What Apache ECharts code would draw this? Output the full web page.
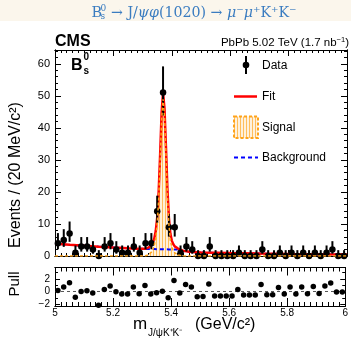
<!DOCTYPE html>
<html>
<head>
<meta charset="utf-8">
<script src="https://cdn.jsdelivr.net/npm/echarts@6/dist/echarts.min.js"></script>
<style>
html, body { margin: 0; padding: 0; background: #fff; }
#chart { width: 351px; height: 344px; }
</style>
</head>
<body>
<div id="chart"></div>
<script>
// J/psi K+K- invariant mass, 20 MeV bins between 5.0 and 6.0 GeV
const binCenters = [
  5.01, 5.03, 5.05, 5.07, 5.09, 5.11, 5.13, 5.15, 5.17, 5.19,
  5.21, 5.23, 5.25, 5.27, 5.29, 5.31, 5.33, 5.35, 5.37, 5.39,
  5.41, 5.43, 5.45, 5.47, 5.49, 5.51, 5.53, 5.55, 5.57, 5.59,
  5.61, 5.63, 5.65, 5.67, 5.69, 5.71, 5.73, 5.75, 5.77, 5.79,
  5.81, 5.83, 5.85, 5.87, 5.89, 5.91, 5.93, 5.95, 5.97, 5.99
];
// events per bin
const counts = [
  4, 5, 7, 1, 3, 3, 2, 0, 3, 4,
  2, 1, 1, 3, 1, 4, 4, 14, 51, 9,
  9, 1, 3, 2, 0, 0, 3, 0, 0, 0,
  0, 1, 0, 0, 0, 2, 0, 0, 1, 0,
  1, 0, 1, 0, 1, 0, 1, 2, 0, 0
];
// (data - fit) / error per bin
const pulls = [
  0.15, 0.7, 1.4, -0.9, 0.0, 0.1, -0.25, -2.2, 0.3, 0.85,
  -0.05, -0.4, -0.4, 0.7, -0.35, 0.95, -0.4, -0.2, 0.05, -1.0,
  1.75, -0.25, 1.1, 0.7, -0.85, -0.8, 1.2, -0.7, -0.7, -0.7,
  -0.7, 0.3, -0.55, -0.55, -0.55, 1.1, -0.5, -0.5, 0.65, -0.4,
  0.7, -0.4, 0.7, -0.35, 0.8, -0.3, 0.85, 1.35, -0.1, -0.1
];
// fitted model sampled along the mass axis
const curveMass = [
  5.00, 5.05, 5.10, 5.15, 5.20, 5.25, 5.28, 5.30, 5.31, 5.32,
  5.33, 5.335, 5.34, 5.345, 5.35, 5.355, 5.36, 5.365, 5.37, 5.375,
  5.38, 5.385, 5.39, 5.395, 5.40, 5.405, 5.41, 5.42, 5.43, 5.44,
  5.46, 5.50, 5.55, 5.60, 5.70, 5.80, 5.90, 6.00
];
const fitTotal = [
  3.85, 3.5, 3.2, 2.9, 2.65, 2.42, 2.3, 2.25, 2.3, 2.6,
  3.4, 4.2, 5.5, 7.8, 12.0, 20.0, 31.5, 44.5, 51.0, 46.0,
  34.0, 21.0, 12.0, 7.0, 4.8, 3.7, 3.0, 2.4, 1.95, 1.6,
  1.3, 1.1, 1.0, 0.9, 0.75, 0.62, 0.52, 0.45
];
const fitBackground = [
  3.85, 3.5, 3.2, 2.9, 2.65, 2.42, 2.3, 2.25, 2.22, 2.2,
  2.18, 2.17, 2.16, 2.15, 2.14, 2.13, 2.12, 2.11, 2.1, 2.09,
  2.08, 2.07, 2.06, 2.05, 2.04, 2.03, 2.02, 2.0, 1.82, 1.5,
  1.28, 1.1, 1.0, 0.9, 0.75, 0.62, 0.52, 0.45
];
const fitSignal = [
  0, 0, 0, 0, 0, 0, 0, 0, 0.08, 0.4,
  1.2, 2.0, 3.3, 5.6, 9.8, 17.8, 29.3, 42.3, 48.9, 43.9,
  31.9, 19.0, 10.0, 5.0, 2.8, 1.7, 1.0, 0.4, 0.13, 0.05,
  0, 0, 0, 0, 0, 0, 0, 0
];
// axis tick labels
const massTicks = [5.0, 5.2, 5.4, 5.6, 5.8, 6.0];
const eventTicks = [0, 10, 20, 30, 40, 50, 60];
const pullTicks = [-2, 0, 2];

const SANS = "'Liberation Sans', Arial, Helvetica, sans-serif";
const SERIF = "'DejaVu Serif', 'Liberation Serif', serif";
const TITLE_BLUE = '#3a7cc0';

// Poisson (Gehrels) 68% interval for a bin content
function poissonLow(n) {
  if (n === 0) return 0;
  return n * Math.pow(1 - 1 / (9 * n) - 1 / (3 * Math.sqrt(n)), 3);
}
function poissonHigh(n) {
  const m = n + 1;
  return m * Math.pow(1 - 1 / (9 * m) + 1 / (3 * Math.sqrt(m)), 3);
}

// minor tick positions between the labelled ones
function steps(from, to, step, skipEvery) {
  const out = [];
  const n = Math.round((to - from) / step);
  for (let i = 0; i <= n; i++) {
    if (skipEvery && i % skipEvery === 0) continue;
    out.push(+(from + i * step).toFixed(4));
  }
  return out;
}
const massMinor = steps(5.0, 6.0, 0.02, 10);
const eventMinor = steps(0, 64, 2, 5);
const pullMinor = [-1, 1, 3];

// vertical hatching used for the signal component
function hatch() {
  const c = document.createElement('canvas');
  c.width = 3; c.height = 3;
  const g = c.getContext('2d');
  g.fillStyle = '#fff1dc';
  g.fillRect(0, 0, 3, 3);
  g.fillStyle = '#ffbe5c';
  g.fillRect(0, 0, 1, 3);
  return c;
}
const hatchPattern = { image: hatch(), repeat: 'repeat' };

const ORANGE = '#ffa31a';
const MAIN_MAX = 64.3;
const PULL_MIN = -2.3, PULL_MAX = 3.8;

function axis(gridIndex, position, min, max, tickValues, tickLen, label) {
  return {
    type: 'value', gridIndex: gridIndex, position: position, min: min, max: max,
    axisLine: { show: true, onZero: false, lineStyle: { color: '#000', width: 1 } },
    axisTick: { show: true, inside: true, length: tickLen, customValues: tickValues,
                lineStyle: { color: '#000', width: 1 } },
    axisLabel: label ? Object.assign({ show: true, color: '#000', fontSize: 11, fontFamily: SANS }, label)
                     : { show: false },
    splitLine: { show: false },
    axisPointer: { show: false }
  };
}
function fmtNum(v) {
  const s = String(+(+v).toFixed(1));
  return s.charAt(0) === '-' ? '\u2212' + s.slice(1) : s;
}

const pts = (xs, ys) => xs.map((x, i) => [x, ys[i]]);

const chart = echarts.init(document.getElementById('chart'), null, { renderer: 'canvas' });

chart.setOption({
  animation: false,
  backgroundColor: '#fff',
  grid: [
    { left: 55, top: 50, width: 292, height: 206 },
    { left: 55, top: 267.5, width: 292, height: 38.5 }
  ],
  xAxis: [
    axis(0, 'bottom', 5, 6, massTicks, 6),
    axis(0, 'bottom', 5, 6, massMinor, 3),
    axis(0, 'top', 5, 6, massTicks, 6),
    axis(0, 'top', 5, 6, massMinor, 3),
    axis(1, 'bottom', 5, 6, massTicks, 8, { customValues: massTicks, margin: 2, fontSize: 10, formatter: fmtNum }),
    axis(1, 'bottom', 5, 6, massMinor, 4),
    axis(1, 'top', 5, 6, massTicks, 8),
    axis(1, 'top', 5, 6, massMinor, 4)
  ],
  yAxis: [
    axis(0, 'left', 0, MAIN_MAX, eventTicks, 6, { customValues: eventTicks, margin: 5, formatter: fmtNum }),
    axis(0, 'left', 0, MAIN_MAX, eventMinor, 3),
    axis(0, 'right', 0, MAIN_MAX, eventTicks, 6),
    axis(0, 'right', 0, MAIN_MAX, eventMinor, 3),
    axis(1, 'left', PULL_MIN, PULL_MAX, pullTicks, 5, { customValues: pullTicks, margin: 5, fontSize: 10, formatter: fmtNum }),
    axis(1, 'left', PULL_MIN, PULL_MAX, pullMinor, 3),
    axis(1, 'right', PULL_MIN, PULL_MAX, pullTicks, 5),
    axis(1, 'right', PULL_MIN, PULL_MAX, pullMinor, 3)
  ],
  series: [
    {
      name: 'Signal area', type: 'line', xAxisIndex: 0, yAxisIndex: 0, z: 1,
      data: pts(curveMass, fitSignal), showSymbol: false, symbol: 'none',
      lineStyle: { width: 0 }, areaStyle: { color: hatchPattern, opacity: 1, origin: 0 }
    },
    {
      name: 'Background', type: 'line', xAxisIndex: 0, yAxisIndex: 0, z: 2,
      data: pts(curveMass, fitBackground), showSymbol: false, symbol: 'none',
      lineStyle: { color: '#0000ff', width: 2, type: [4, 3] }
    },
    {
      name: 'Fit', type: 'line', xAxisIndex: 0, yAxisIndex: 0, z: 3,
      data: pts(curveMass, fitTotal), showSymbol: false, symbol: 'none',
      lineStyle: { color: '#ff0000', width: 2.5 }
    },
    {
      name: 'Data errors', type: 'custom', xAxisIndex: 0, yAxisIndex: 0, z: 4,
      data: binCenters.map((x, i) => [x, poissonLow(counts[i]), poissonHigh(counts[i])]),
      renderItem: function (params, api) {
        const a = api.coord([api.value(0), api.value(1)]);
        const b = api.coord([api.value(0), api.value(2)]);
        return { type: 'line', shape: { x1: a[0], y1: a[1], x2: b[0], y2: b[1] },
                 style: { stroke: '#000', lineWidth: 2 } };
      }
    },
    {
      name: 'Data', type: 'scatter', xAxisIndex: 0, yAxisIndex: 0, z: 5,
      data: pts(binCenters, counts), symbol: 'circle', symbolSize: 6.5,
      itemStyle: { color: '#000', opacity: 1 }
    },
    {
      name: 'Signal', type: 'line', xAxisIndex: 0, yAxisIndex: 0, z: 6,
      data: pts(curveMass, fitSignal), showSymbol: false, symbol: 'none',
      lineStyle: { color: ORANGE, width: 1.5, type: [3, 2] }
    },
    {
      name: 'Zero', type: 'line', xAxisIndex: 4, yAxisIndex: 4, z: 1,
      data: [[5, 0], [6, 0]], showSymbol: false, symbol: 'none',
      lineStyle: { color: '#555', width: 1, type: [3, 3] }
    },
    {
      name: 'Pull', type: 'scatter', xAxisIndex: 4, yAxisIndex: 4, z: 5,
      data: pts(binCenters, pulls), symbol: 'circle', symbolSize: 5.5,
      itemStyle: { color: '#000', opacity: 1 }
    }
  ],
  graphic: [
    // header band with the decay chain
    { type: 'rect', shape: { x: 0, y: 0, width: 351, height: 21 }, style: { fill: '#fbf6ec' }, z: 0 },
    { type: 'text', x: 91.5, y: 13, style: { text: 'B', font: '14.5px ' + SERIF, fill: TITLE_BLUE, verticalAlign: 'middle' } },
    { type: 'text', x: 100.5, y: 9, style: { text: '0', font: '9px ' + SERIF, fill: TITLE_BLUE, verticalAlign: 'middle' } },
    { type: 'text', x: 100.5, y: 17, style: { text: 's', font: '9px ' + SERIF, fill: TITLE_BLUE, verticalAlign: 'middle' } },
    { type: 'text', x: 111, y: 13, style: {
        text: '{u|\u2192 J/}{i|\u03C8\u03C6}{u|(1020) \u2192 }{i|\u03BC}{u|\u207B}{i|\u03BC}{u|\u207AK\u207AK\u207B}',
        verticalAlign: 'middle',
        rich: {
          u: { fontFamily: SERIF, fontSize: 14.2, fill: TITLE_BLUE },
          i: { fontFamily: SERIF, fontSize: 14.2, fill: TITLE_BLUE, fontStyle: 'italic' }
        } } },
    // experiment and dataset labels
    { type: 'text', x: 55, y: 42, style: { text: 'CMS', font: 'bold 16px ' + SANS, fill: '#000', verticalAlign: 'middle' } },
    { type: 'text', x: 349, y: 42.5, style: {
        text: '{t|PbPb 5.02 TeV (1.7 nb}{s|\u22121}{t|)}', align: 'right', verticalAlign: 'middle',
        rich: { t: { fontFamily: SANS, fontSize: 11.5, fill: '#000' },
                s: { fontFamily: SANS, fontSize: 7.5, fill: '#000', padding: [0, 0, 6, 0] } } } },
    { type: 'text', x: 71, y: 66, style: { text: 'B', font: 'bold 16px ' + SANS, fill: '#000', verticalAlign: 'middle' } },
    { type: 'text', x: 83.5, y: 57.5, style: { text: '0', font: 'bold 10px ' + SANS, fill: '#000', verticalAlign: 'middle' } },
    { type: 'text', x: 83.5, y: 71.5, style: { text: 's', font: 'bold 10px ' + SANS, fill: '#000', verticalAlign: 'middle' } },
    // legend
    { type: 'line', shape: { x1: 246, y1: 56, x2: 246, y2: 74 }, style: { stroke: '#000', lineWidth: 2 } },
    { type: 'circle', shape: { cx: 246, cy: 65, r: 3.3 }, style: { fill: '#000' } },
    { type: 'text', x: 262, y: 65.5, style: { text: 'Data', font: '12px ' + SANS, fill: '#000', verticalAlign: 'middle' } },
    { type: 'line', shape: { x1: 234, y1: 96.5, x2: 257, y2: 96.5 }, style: { stroke: '#ff0000', lineWidth: 2.5 } },
    { type: 'text', x: 262, y: 97, style: { text: 'Fit', font: '12px ' + SANS, fill: '#000', verticalAlign: 'middle' } },
    { type: 'rect', shape: { x: 234, y: 116.5, width: 24, height: 21.5 },
      style: { fill: hatchPattern, stroke: ORANGE, lineWidth: 2, lineDash: [3, 2] } },
    { type: 'text', x: 262, y: 127.5, style: { text: 'Signal', font: '12px ' + SANS, fill: '#000', verticalAlign: 'middle' } },
    { type: 'line', shape: { x1: 234, y1: 157.5, x2: 258, y2: 157.5 }, style: { stroke: '#0000ff', lineWidth: 2, lineDash: [4, 3] } },
    { type: 'text', x: 262, y: 157.5, style: { text: 'Background', font: '12px ' + SANS, fill: '#000', verticalAlign: 'middle' } },
    // axis titles
    { type: 'text', x: 16, y: 175, rotation: Math.PI / 2, style: {
        text: 'Events / (20 MeV/c\u00B2)', font: '16px ' + SANS, fill: '#000', align: 'center', verticalAlign: 'middle' } },
    { type: 'text', x: 15, y: 284, rotation: Math.PI / 2, style: {
        text: 'Pull', font: '15px ' + SANS, fill: '#000', align: 'center', verticalAlign: 'middle' } },
    { type: 'text', x: 133, y: 324.5, style: { text: 'm', font: '17px ' + SANS, fill: '#000', verticalAlign: 'middle' } },
    { type: 'text', x: 148, y: 333.5, style: { text: 'J/\u03C8K\u207AK\u207B', font: '10px ' + SANS, fill: '#000', verticalAlign: 'middle' } },
    { type: 'text', x: 195, y: 325, style: { text: '(GeV/c\u00B2)', font: '16px ' + SANS, fill: '#000', verticalAlign: 'middle' } }
  ]
});
</script>
</body>
</html>
